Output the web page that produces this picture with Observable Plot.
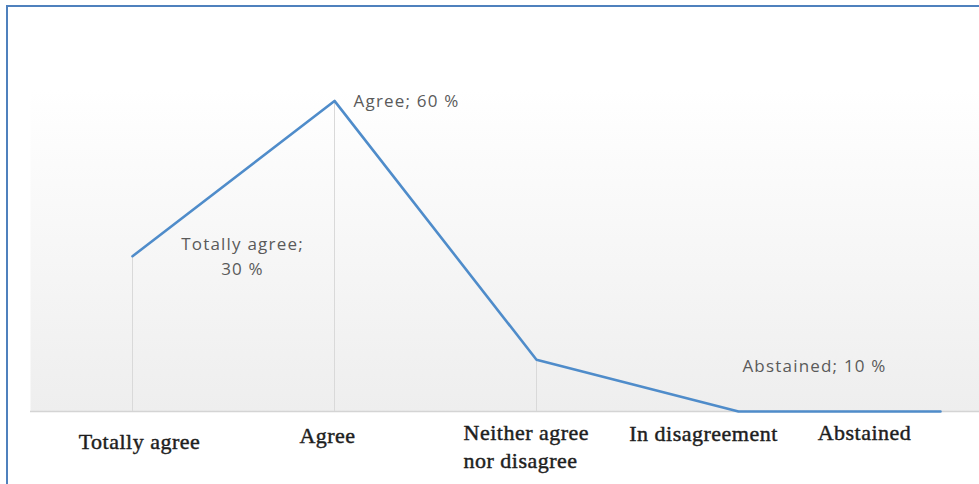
<!DOCTYPE html>
<html><head><meta charset="utf-8">
<script src="https://cdn.jsdelivr.net/npm/d3@7"></script>
<script src="https://cdn.jsdelivr.net/npm/@observablehq/plot@0.6"></script>
<style>
html,body{margin:0;padding:0;background:#fff;}
#wrap{position:relative;width:979px;height:484px;overflow:hidden;background:#fff;}
#wrap svg{position:absolute;left:0;top:0;}
#border{position:absolute;left:6px;top:5px;right:-10px;bottom:-10px;border-top:2px solid #4f81bd;border-left:2px solid #4f81bd;pointer-events:none;}
.axlab text{letter-spacing:0.5px;}
.dlab text{letter-spacing:1.2px;}
</style></head><body><div id="wrap"></div>
<script>
const categories = ["Totally agree", "Agree", "Neither agree nor disagree", "In disagreement", "Abstained"];
const values = [30, 60, 10, 0, 0];
const tickLabels = ["Totally agree", "Agree", "Neither agree\nnor disagree", "In disagreement", "Abstained"];
const dataLabelAgree = "Agree; 60 %";
const dataLabelTotally = "Totally agree;\n30 %";
const dataLabelAbstained = "Abstained; 10 %";

const data = categories.map((c, i) => ({cat: c, value: values[i], tick: tickLabels[i]}));

const serif = "'Liberation Serif', 'Times New Roman', serif";
const sans = "'Open Sans', sans-serif";

function tick(i, dx, dy, anchor = "middle") {
  return Plot.text([data[i]], {
    x: "cat", text: "tick", frameAnchor: "bottom", dx, dy,
    textAnchor: anchor, lineAnchor: "bottom", lineHeight: 1.25,
    fontFamily: serif, fontSize: 22, fill: "#1e1e1e",
    stroke: "#1e1e1e", strokeWidth: 0.45,
    className: "axlab"
  });
}

const plot = Plot.plot({
  width: 979,
  height: 484,
  marginLeft: 30,
  marginRight: 0,
  marginTop: 88,
  marginBottom: 73,
  x: {type: "point", domain: categories, range: [131, 940], padding: 0, axis: null},
  y: {domain: [0, 62.4], range: [411, 88], axis: null},
  marks: [
    Plot.frame({fill: "#f0f0f0", stroke: null}),
    Plot.ruleY([0], {stroke: "#d4d4d4", strokeWidth: 1.5}),
    Plot.ruleX(data, {x: "cat", y1: 0, y2: "value", stroke: "#d9d9d9", strokeWidth: 1}),
    Plot.line(data, {x: "cat", y: "value", stroke: "#4f8cca", strokeWidth: 2.6}),
    Plot.text([data[1]], {x: "cat", y: "value", text: () => dataLabelAgree, dx: 19, dy: 6,
      textAnchor: "start", lineAnchor: "bottom", fontFamily: sans, fontSize: 17, fill: "#5a5a5a", className: "dlab"}),
    Plot.text([data[0]], {x: "cat", y: "value", text: () => dataLabelTotally, dx: 110, dy: 19,
      textAnchor: "middle", lineAnchor: "bottom", lineHeight: 1.47, fontFamily: sans, fontSize: 17, fill: "#5a5a5a", className: "dlab"}),
    Plot.text([{cat: "Abstained", value: 10}], {x: "cat", y: "value", text: () => dataLabelAbstained, dx: -126, dy: 12,
      textAnchor: "middle", lineAnchor: "bottom", fontFamily: sans, fontSize: 17, fill: "#5a5a5a", className: "dlab"}),
    tick(0, 7, 37),
    tick(1, -7, 31),
    tick(2, -73, 56, "start"),
    tick(3, -35, 29),
    tick(4, -76, 28)
  ]
});

const svg = d3.select(plot);
const defs = svg.insert("defs", ":first-child");
const g = defs.append("linearGradient").attr("id", "bggrad").attr("x1", 0).attr("y1", 0).attr("x2", 0).attr("y2", 1);
g.append("stop").attr("offset", "0%").attr("stop-color", "#ffffff");
g.append("stop").attr("offset", "100%").attr("stop-color", "#eeeeee");
svg.selectAll("[aria-label=frame], [aria-label=frame] rect").attr("fill", "url(#bggrad)");

const wrap = document.getElementById("wrap");
wrap.appendChild(plot);
const border = document.createElement("div");
border.id = "border";
wrap.appendChild(border);
</script>
</body></html>
